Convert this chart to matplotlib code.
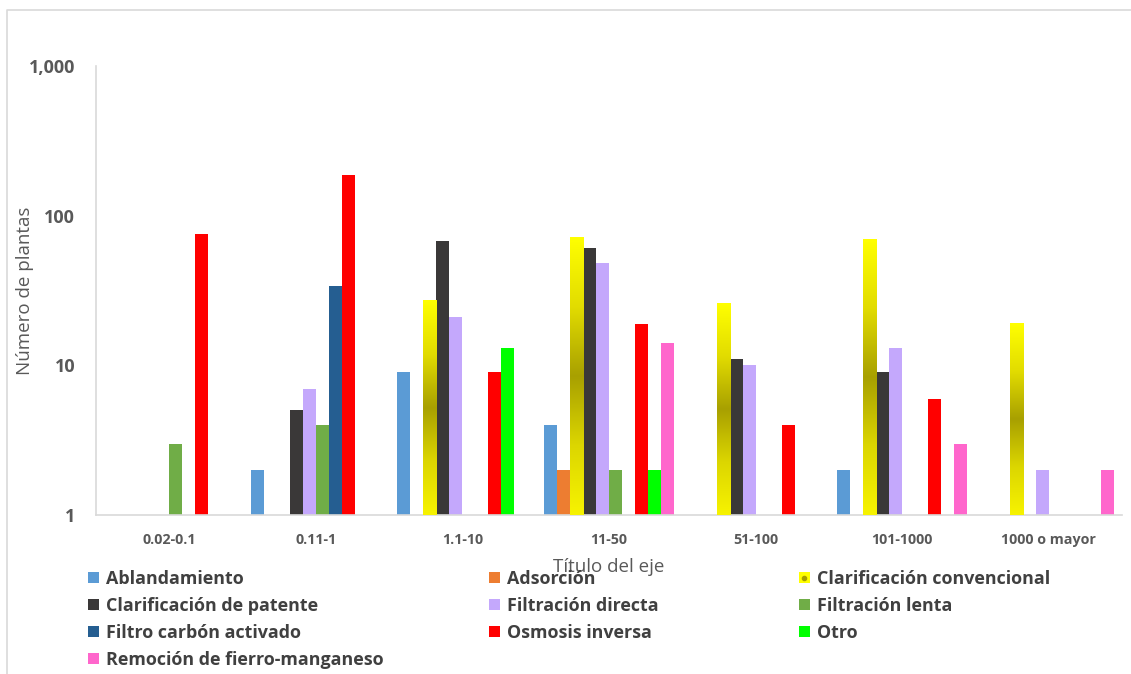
import numpy as np
import matplotlib
matplotlib.use("Agg")
import matplotlib.pyplot as plt
from matplotlib.patches import Patch
from matplotlib.lines import Line2D
from matplotlib.colors import LinearSegmentedColormap

# Capacity ranges (L/s) and number of plants per treatment process
categories = ["0.02-0.1", "0.11-1", "1.1-10", "11-50", "51-100", "101-1000", "1000 o mayor"]

ablandamiento = [0, 2, 9, 4, 0, 2, 0]
adsorcion = [0, 0, 0, 2, 0, 0, 0]
clarif_convencional = [0, 0, 27, 72, 26, 69, 19]
clarif_patente = [0, 5, 68, 61, 11, 9, 0]
filtracion_directa = [0, 7, 21, 48, 10, 13, 2]
filtracion_lenta = [3, 4, 0, 2, 0, 0, 0]
filtro_carbon = [0, 34, 0, 0, 0, 0, 0]
osmosis_inversa = [75, 188, 9, 19, 4, 6, 0]
otro = [0, 0, 13, 2, 0, 0, 0]
remocion_fe_mn = [0, 0, 0, 14, 0, 3, 2]

series_names = [
    "Ablandamiento", "Adsorción", "Clarificación convencional",
    "Clarificación de patente", "Filtración directa", "Filtración lenta",
    "Filtro carbón activado", "Osmosis inversa", "Otro",
    "Remoción de fierro-manganeso",
]
series_values = [
    ablandamiento, adsorcion, clarif_convencional, clarif_patente,
    filtracion_directa, filtracion_lenta, filtro_carbon, osmosis_inversa,
    otro, remocion_fe_mn,
]
series_colors = [
    "#5B9BD5", "#ED7D31", "#FFFF00", "#3A3838", "#C4A8FC",
    "#70AD47", "#255E91", "#FF0000", "#00FF00", "#FF66CC",
]

plt.rcParams["font.family"] = ["Open Sans", "DejaVu Sans"]

TEXT_GRAY = "#595959"
LEG_GRAY = "#404040"
GRID_GRAY = "#D9D9D9"

fig = plt.figure(figsize=(11.31, 6.74), dpi=100)
ax = fig.add_axes([96 / 1131, 1 - 515 / 674, (1122 - 96) / 1131, (515 - 66) / 674])

n_cat = len(categories)
n_ser = len(series_names)
x = np.arange(n_cat)
bar_w = 0.0887
offsets = (np.arange(n_ser) - (n_ser - 1) / 2) * bar_w

ax.set_yscale("log")
ax.set_ylim(1, 1000)
ax.set_xlim(-0.5, n_cat - 0.5)

containers = []
for i, (vals, col) in enumerate(zip(series_values, series_colors)):
    v = np.array(vals, dtype=float)
    h = np.where(v > 0, v - 1, 0)
    bc = ax.bar(x + offsets[i], h, bottom=1, width=bar_w, color=col,
                edgecolor="none", linewidth=0, zorder=2)
    containers.append(bc)

# Gradient fill (yellow - olive - yellow) for the conventional clarification bars
grad_cmap = LinearSegmentedColormap.from_list(
    "clarif", [(0.0, "#F7F300"), (0.25, "#DCD600"), (0.5, "#A8A000"),
               (0.75, "#E2DC00"), (1.0, "#FFFF00")])
grad = np.linspace(0, 1, 256).reshape(-1, 1)
to_axes = ax.transAxes.inverted()
for rect, val in zip(containers[2].patches, clarif_convencional):
    if val <= 0:
        continue
    x0 = rect.get_x()
    x1 = x0 + rect.get_width()
    (ax0, ay0) = to_axes.transform(ax.transData.transform((x0, 1)))
    (ax1, ay1) = to_axes.transform(ax.transData.transform((x1, val)))
    ax.imshow(grad, cmap=grad_cmap, aspect="auto", origin="lower",
              extent=[ax0, ax1, ay0, ay1], transform=ax.transAxes,
              interpolation="bilinear", zorder=3)
ax.set_xlim(-0.5, n_cat - 0.5)
ax.set_ylim(1, 1000)

# Axes styling
for s in ["top", "right"]:
    ax.spines[s].set_visible(False)
for s in ["left", "bottom"]:
    ax.spines[s].set_color(GRID_GRAY)
    ax.spines[s].set_linewidth(1.2)

ax.set_yticks([1, 10, 100, 1000])
ax.set_yticklabels(["1", "10", "100", "1,000"])
ax.yaxis.set_minor_locator(matplotlib.ticker.NullLocator())
ax.tick_params(axis="y", length=0, pad=15, labelsize=13, labelcolor=TEXT_GRAY)
for t in ax.get_yticklabels():
    t.set_fontweight("bold")
ax.set_xticks(x)
ax.set_xticklabels(categories)
ax.tick_params(axis="x", length=0, pad=13, labelsize=10.3, labelcolor=TEXT_GRAY)
for t in ax.get_xticklabels():
    t.set_fontweight("bold")

ax.set_ylabel("Número de plantas", fontsize=13.5, color=TEXT_GRAY)
ax.yaxis.set_label_coords((34 - 96) / 1026, 0.5)
ax.set_xlabel("Título del eje", fontsize=13.5, color=TEXT_GRAY)
ax.xaxis.set_label_coords(0.5, -(567 - 515) / 449)
ax.xaxis.label.set_verticalalignment("center")

# Legend: three columns laid out row by row
handles = []
for name, col in zip(series_names, series_colors):
    if name == "Clarificación convencional":
        h = (Patch(facecolor=col, edgecolor="none"),
             Line2D([], [], marker="o", markersize=3, color="#A8A000", linestyle="none"))
    else:
        h = Patch(facecolor=col, edgecolor="none")
    handles.append(h)

col_x = [88 / 1131, 489 / 1131, 799 / 1131]
leg_kw = dict(frameon=False, handlelength=0.61, handleheight=0.61,
              handletextpad=0.39, labelspacing=0.5, borderaxespad=0, borderpad=0,
              labelcolor=LEG_GRAY, prop={"family": ["Open Sans", "DejaVu Sans"],
                                         "weight": "bold", "size": 12.9})
for c in range(3):
    idx = list(range(c, n_ser, 3))
    fig.legend([handles[i] for i in idx], [series_names[i] for i in idx],
               loc="upper left", bbox_to_anchor=(col_x[c], 1 - 570 / 674), **leg_kw)

# Chart area border (left and top edges)
bx, by = 6.5 / 1131, 1 - 9.5 / 674
fig.add_artist(Line2D([bx, bx, 1.0], [0.0, by, by], transform=fig.transFigure,
                      color=GRID_GRAY, linewidth=1.2))

fig.savefig("out.png", dpi=100, facecolor="white")
